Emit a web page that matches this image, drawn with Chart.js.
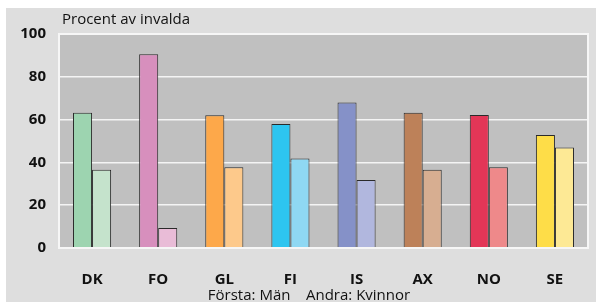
<!DOCTYPE html>
<html lang="sv">
<head>
<meta charset="UTF-8">
<title>Procent av invalda</title>
<script src="https://cdn.jsdelivr.net/npm/chart.js"></script>
<style>
  html, body { margin: 0; padding: 0; background: #fff; }
  #wrap { width: 596px; height: 302px; position: relative; }
</style>
</head>
<body>
<div id="wrap"><canvas id="chart" width="596" height="302"></canvas></div>
<script>
// Data
const countries = ['DK', 'FO', 'GL', 'FI', 'IS', 'AX', 'NO', 'SE'];
const men = [63.2, 90.5, 62, 58, 68, 63.2, 62.1, 52.8];     // Första
const women = [36.6, 9.3, 37.7, 41.8, 31.8, 36.6, 37.7, 47]; // Andra
const yTicks = [0, 20, 40, 60, 80, 100];

const menColors = ['#9dd4b0', '#d78fbd', '#fda84a', '#2dc5f0', '#8591c8', '#bd8159', '#e33657', '#fedd48'];
const womenColors = ['#c5e3cc', '#e9bcd7', '#fdc98b', '#8fd8f3', '#b1b7de', '#d7ae91', '#ee898a', '#fde995'];

const FONT = '"Open Sans", "DejaVu Sans", sans-serif';

const frame = {
    id: 'frame',
    beforeDraw(chart) {
        const ctx = chart.ctx;
        const a = chart.chartArea;
        ctx.save();
        ctx.fillStyle = '#ffffff';
        ctx.fillRect(0, 0, chart.width, chart.height);
        ctx.fillStyle = '#dedede';
        ctx.fillRect(6, 8, chart.width - 6, chart.height - 8);
        ctx.fillStyle = '#c0c0c0';
        ctx.fillRect(a.left, a.top, a.right - a.left, a.bottom - a.top);
        ctx.restore();
    },
    afterDraw(chart) {
        const ctx = chart.ctx;
        const a = chart.chartArea;
        ctx.save();
        ctx.strokeStyle = '#f6f6f6';
        ctx.lineWidth = 2;
        ctx.strokeRect(a.left, a.top, a.right - a.left, a.bottom - a.top);
        ctx.fillStyle = '#111';
        ctx.font = '15px ' + FONT;
        ctx.textBaseline = 'middle';
        ctx.textAlign = 'left';
        ctx.fillText('Procent av invalda', 62, 20);
        ctx.textAlign = 'center';
        ctx.fillText('Första: Män    Andra: Kvinnor', 309, 296);
        ctx.restore();
    }
};

new Chart(document.getElementById('chart'), {
    type: 'bar',
    data: {
        labels: countries,
        datasets: [
            { label: 'Män', data: men, backgroundColor: menColors, borderColor: '#2a2a2a', borderWidth: 1 },
            { label: 'Kvinnor', data: women, backgroundColor: womenColors, borderColor: '#2a2a2a', borderWidth: 1 }
        ]
    },
    options: {
        responsive: false,
        animation: false,
        layout: { padding: { top: 34, right: 8, left: 0, bottom: 0 } },
        plugins: { legend: { display: false }, tooltip: { enabled: false } },
        datasets: { bar: { categoryPercentage: 0.576, barPercentage: 1 } },
        scales: {
            x: {
                grid: { display: false },
                border: { display: false },
                ticks: { color: '#111', font: { family: FONT, size: 15, weight: 'bold' }, padding: 15 },
                afterFit(s) { s.height = 54; }
            },
            y: {
                min: 0, max: 100,
                afterBuildTicks(s) { s.ticks = yTicks.map(v => ({ value: v })); },
                grid: { color: '#f4f4f4', lineWidth: 1.5, drawTicks: false },
                border: { display: false },
                ticks: { color: '#111', font: { family: FONT, size: 15, weight: 'bold' }, padding: 13 },
                afterFit(s) { s.width = 59; }
            }
        }
    },
    plugins: [frame]
});
</script>
</body>
</html>
